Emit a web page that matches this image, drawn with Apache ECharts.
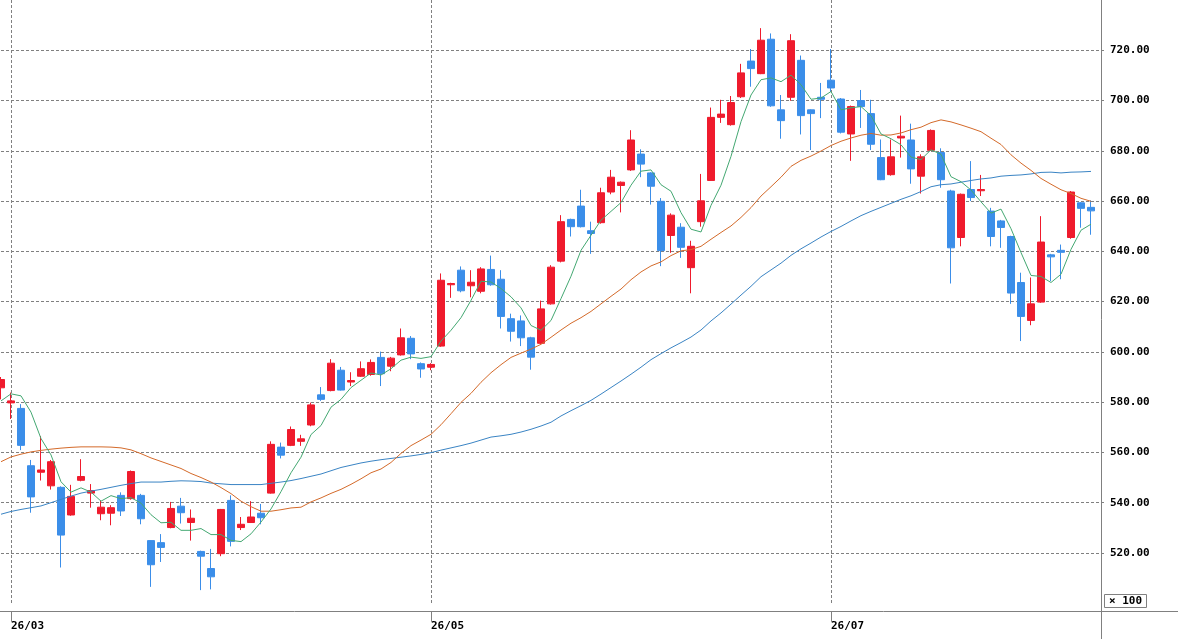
<!DOCTYPE html>
<html>
<head>
<meta charset="utf-8">
<script src="https://cdn.jsdelivr.net/npm/echarts@6/dist/echarts.min.js"></script>
<style>
  html, body { margin: 0; padding: 0; background: #fff; }
  #charts { width: 1178px; height: 639px; }
</style>
</head>
<body>
<div id="charts"></div>
<script>
    var myChart = echarts.init(document.getElementById('charts'));

    // daily bars, index 0 = last day of Feb, one empty slot at the right edge
    var tickIndex = [1, 43, 83];
    var tickLabels = ['26/03', '26/05', '26/07'];

    var opens = [585.7,579.7,577.5,554.7,552.1,546.7,546.1,535.1,548.9,543.8,
        535.6,535.8,542.9,541.6,542.9,524.9,524.1,530.1,538.6,532.1,
        520.6,513.8,519.7,540.9,530.1,532.1,535.8,543.8,562.1,562.8,
        564.4,570.9,582.9,584.6,592.7,588.0,590.3,591.0,597.8,594.3,
        598.8,605.4,595.3,593.9,602.3,626.7,632.5,626.3,624.1,632.8,
        628.9,613.2,612.3,605.6,603.4,619.1,636.1,652.7,658.0,648.2,
        651.4,663.6,666.2,672.4,678.7,671.2,659.9,646.3,649.6,633.5,
        651.8,668.2,693.3,690.4,701.5,715.7,710.7,724.4,696.3,701.3,
        716.0,696.3,701.3,708.1,700.6,686.7,700.0,694.8,677.3,670.5,
        685.1,684.3,669.9,680.2,679.3,664.0,645.5,664.6,664.1,656.0,
        652.1,645.9,627.6,612.5,619.8,638.6,640.4,645.5,659.3,657.5];
    var closes = [589.0,580.5,562.8,542.3,553.0,556.3,527.1,542.5,550.4,544.8,
        538.2,538.0,536.7,552.4,533.6,515.3,522.2,537.7,536.0,533.8,
        518.7,510.5,537.3,524.6,531.4,534.3,534.0,563.2,558.9,569.1,
        565.4,578.9,581.1,595.5,584.8,588.6,593.3,595.8,591.3,597.5,
        605.6,599.2,593.2,595.0,628.5,627.2,624.3,627.7,633.0,626.7,
        614.1,608.2,605.6,597.9,617.1,633.7,651.8,649.8,649.8,647.1,
        663.3,669.5,667.5,684.3,674.7,665.9,640.3,654.4,641.6,642.0,
        660.1,693.3,694.6,699.2,711.0,712.7,724.0,697.9,692.0,723.8,
        694.0,694.8,700.5,705.0,687.4,697.6,697.6,682.6,668.5,677.6,
        685.8,672.8,677.6,688.1,668.5,641.4,662.7,661.4,664.6,645.9,
        649.5,623.4,614.1,619.1,643.7,637.8,639.6,663.6,657.1,656.1];
    var lows = [581.1,573.3,560.9,536.0,548.8,545.2,514.2,534.8,548.5,538.0,
        533.0,531.0,534.7,541.2,531.4,506.5,516.4,529.8,531.7,524.9,
        505.2,505.5,518.7,522.6,529.1,531.9,531.4,543.6,557.6,562.5,
        562.6,570.4,580.5,584.3,584.6,586.4,590.0,590.5,586.4,592.3,
        598.5,597.1,589.7,592.7,602.0,621.5,623.7,621.7,623.3,626.3,
        609.3,604.1,602.3,592.9,603.0,618.8,635.6,645.9,649.5,639.0,
        651.0,662.7,655.5,672.0,669.5,658.6,634.1,639.4,637.4,623.3,
        649.8,668.0,691.1,690.0,701.0,705.5,710.5,697.5,684.8,699.9,
        686.5,680.3,693.0,703.5,686.9,676.0,689.1,680.3,668.3,670.1,
        677.3,666.9,663.0,680.0,665.3,627.2,642.0,660.0,662.0,642.0,
        641.4,619.1,604.3,610.6,619.5,628.2,628.9,645.0,649.4,646.6];
    var highs = [590.0,583.8,579.2,557.0,566.5,557.0,546.5,547.1,557.3,547.4,
        540.9,539.0,544.1,552.8,543.5,525.0,527.5,540.3,541.9,537.3,
        520.9,521.6,537.5,542.9,534.3,540.6,539.5,564.4,563.9,570.3,
        567.0,579.8,586.0,597.1,594.0,591.9,596.2,597.0,600.1,598.0,
        609.3,606.3,595.8,595.5,631.2,627.5,634.0,632.5,633.7,638.3,
        632.5,615.2,614.5,606.0,620.4,634.5,654.4,653.0,664.5,651.8,
        665.3,672.4,667.8,688.2,680.6,671.5,661.2,655.1,651.2,644.2,
        670.8,697.2,700.3,701.8,714.6,720.5,728.8,726.7,702.2,726.4,
        717.9,696.5,707.0,720.5,701.0,698.0,704.2,700.3,684.5,684.5,
        694.0,690.8,678.6,688.5,681.0,664.5,663.0,675.9,670.4,657.3,
        652.5,646.2,631.5,629.6,654.0,639.0,642.7,664.0,659.6,660.3];

    // moving averages as drawn on the chart
    var ma5 = [580.5,583.3,582.5,576.0,565.5,559.0,548.3,544.2,545.9,544.2,
        540.6,542.8,541.6,542.0,539.8,535.2,532.0,532.2,529.0,529.0,
        529.7,527.3,527.3,525.0,524.5,527.6,532.3,537.5,544.4,551.9,
        558.1,567.1,570.7,578.0,581.1,585.8,588.7,591.6,590.8,593.3,
        596.7,597.9,597.4,598.1,604.3,608.6,613.6,620.5,628.1,627.8,
        625.2,621.9,617.5,610.5,608.6,612.5,621.2,630.1,640.4,646.4,
        652.4,655.9,659.4,666.3,671.9,672.4,666.5,663.9,655.4,648.8,
        647.7,658.3,666.3,677.8,691.6,702.2,708.3,709.0,707.5,710.1,
        706.3,700.5,701.0,703.6,696.3,697.1,697.6,694.0,686.7,684.8,
        682.4,677.5,676.5,680.4,678.6,669.7,667.7,664.4,659.7,655.2,
        656.8,649.0,639.5,630.4,630.0,627.6,630.9,640.8,648.4,650.8];
    var ma25 = [556.3,558.2,559.3,560.2,560.8,561.3,561.7,562.0,562.2,562.2,
        562.2,562.1,561.8,561.0,559.5,557.8,556.4,555.0,553.6,551.6,
        550.0,548.2,546.0,543.6,540.6,538.4,536.6,536.6,537.2,537.9,
        538.2,540.3,541.9,543.7,545.3,547.3,549.5,551.9,553.4,556.0,
        559.6,562.7,564.9,567.2,571.0,575.4,579.9,583.5,587.9,591.7,
        594.9,597.8,599.5,601.1,603.0,605.8,608.7,611.4,613.6,616.1,
        619.1,622.1,625.0,628.7,631.8,634.2,635.8,638.3,640.2,640.7,
        642.0,644.8,647.5,650.1,653.5,657.4,662.0,665.7,669.5,673.8,
        676.2,677.9,679.9,682.1,683.8,685.1,686.2,686.9,686.2,686.3,
        687.1,688.4,689.4,691.2,692.3,691.5,690.3,689.0,687.6,685.0,
        682.5,678.4,675.1,672.2,669.0,666.7,664.5,663.0,661.1,659.9];
    var ma50 = [535.4,536.5,537.3,538.0,538.7,540.0,541.3,542.6,543.8,544.6,
        545.3,546.1,546.9,547.6,548.2,548.2,548.2,548.5,548.7,548.6,
        548.4,547.8,547.5,547.2,547.2,547.2,547.2,547.7,548.2,548.8,
        549.6,550.5,551.4,552.7,554.0,554.9,555.8,556.5,557.1,557.6,
        558.1,558.6,559.2,559.9,560.9,561.8,562.7,563.7,564.9,566.1,
        566.6,567.2,568.1,569.2,570.5,572.0,574.5,576.6,578.6,580.7,
        583.2,585.8,588.4,591.1,593.9,596.9,599.3,601.6,603.7,605.9,
        608.7,612.3,615.5,619.0,622.6,626.1,629.9,632.6,635.3,638.4,
        641.0,643.3,645.7,647.9,649.9,652.1,654.2,655.9,657.5,659.1,
        660.7,662.1,663.8,665.7,666.5,666.8,667.5,668.2,668.8,669.2,
        669.9,670.2,670.4,670.8,671.4,671.5,671.2,671.5,671.6,671.8];

    var days = [];
    for (var i = 0; i <= opens.length; i++) {
        days.push(i);
    }
    var candles = [];
    for (var j = 0; j < opens.length; j++) {
        candles.push([opens[j], closes[j], lows[j], highs[j]]);
    }

    var monoFont = '"DejaVu Sans Mono", "Liberation Mono", monospace';
    var isTick = function (index) {
        return tickIndex.indexOf(index) >= 0;
    };

    myChart.setOption({
        animation: false,
        backgroundColor: '#fff',
        title: {
            text: '\u00d7 100',
            left: 1104,
            top: 594,
            padding: [1, 5, 1, 5],
            borderColor: '#808080',
            borderWidth: 1,
            textStyle: {
                fontFamily: monoFont,
                fontSize: 11,
                fontWeight: 'bold',
                lineHeight: 12,
                color: '#000'
            }
        },
        grid: {
            left: 1,
            right: 77,
            top: -7.6,
            bottom: 35.8
        },
        xAxis: {
            type: 'category',
            data: days,
            boundaryGap: false,
            offset: 8.5,
            axisLine: { show: false },
            axisTick: {
                show: true,
                interval: isTick,
                length: 10,
                lineStyle: { color: '#808080' }
            },
            axisLabel: {
                interval: isTick,
                align: 'left',
                margin: 9,
                fontFamily: monoFont,
                fontSize: 11,
                fontWeight: 'bold',
                color: '#000',
                formatter: function (value) {
                    var n = tickIndex.indexOf(Number(value));
                    return n >= 0 ? tickLabels[n] : '';
                }
            },
            splitLine: {
                show: true,
                interval: isTick,
                lineStyle: { color: '#808080', type: [3, 2], width: 1 }
            }
        },
        yAxis: {
            type: 'value',
            position: 'right',
            min: 500,
            max: 740,
            interval: 20,
            axisLine: { show: false },
            axisTick: {
                show: true,
                length: 3,
                lineStyle: { color: '#808080' }
            },
            axisLabel: {
                margin: 9,
                showMinLabel: false,
                showMaxLabel: false,
                fontFamily: monoFont,
                fontSize: 11,
                fontWeight: 'bold',
                color: '#000',
                formatter: function (v) {
                    return v.toFixed(2);
                }
            },
            splitLine: {
                show: true,
                showMinLine: false,
                showMaxLine: false,
                lineStyle: { color: '#808080', type: [3, 2], width: 1 }
            }
        },
        graphic: [
            {
                type: 'line',
                shape: { x1: 0, y1: 611.5, x2: 1178, y2: 611.5 },
                style: { stroke: '#808080', lineWidth: 1 }
            },
            {
                type: 'line',
                shape: { x1: 1101.5, y1: 0, x2: 1101.5, y2: 639 },
                style: { stroke: '#808080', lineWidth: 1 }
            }
        ],
        series: [
            {
                name: 'price',
                type: 'candlestick',
                data: candles,
                barWidth: 7,
                clip: false,
                itemStyle: {
                    color: '#ef1b2d',
                    color0: '#3b8ee9',
                    borderColor: '#ef1b2d',
                    borderColor0: '#3b8ee9',
                    borderWidth: 1
                }
            },
            {
                name: 'MA50',
                type: 'line',
                data: ma50,
                symbol: 'none',
                lineStyle: { color: '#3a84c4', width: 1 }
            },
            {
                name: 'MA25',
                type: 'line',
                data: ma25,
                symbol: 'none',
                lineStyle: { color: '#d46a2a', width: 1 }
            },
            {
                name: 'MA5',
                type: 'line',
                data: ma5,
                symbol: 'none',
                lineStyle: { color: '#44a872', width: 1 }
            }
        ]
    });
</script>
</body>
</html>
